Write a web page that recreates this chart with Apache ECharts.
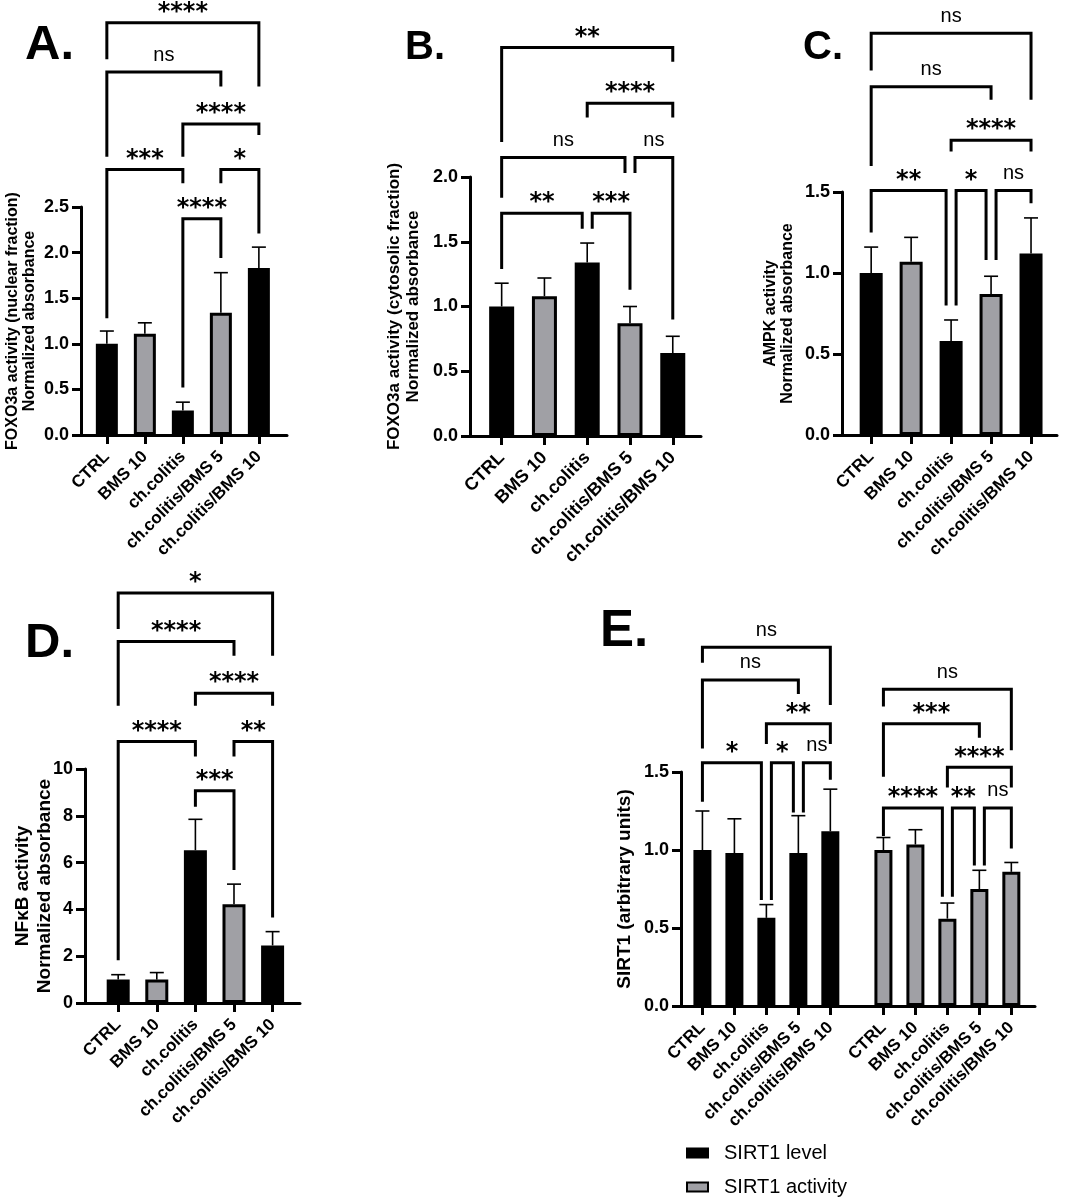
<!DOCTYPE html>
<html>
<head>
<meta charset="utf-8">
<script src="https://cdn.jsdelivr.net/npm/echarts@6/dist/echarts.min.js"></script>
<style>
  html, body { margin: 0; padding: 0; background: #fff; }
  #chart { width: 1065px; height: 1201px; }
</style>
</head>
<body>
<div id="chart"></div>
<script>
// group names (same order in every panel)
const groups = ['CTRL', 'BMS 10', 'ch.colitis', 'ch.colitis/BMS 5', 'ch.colitis/BMS 10'];

// A. FOXO3a activity, nuclear fraction
const foxoNucMean = [1.00, 1.11, 0.27, 1.34, 1.83];
const foxoNucSd   = [0.14, 0.12, 0.09, 0.44, 0.23];
// B. FOXO3a activity, cytosolic fraction
const foxoCytMean = [1.00, 1.08, 1.34, 0.87, 0.64];
const foxoCytSd   = [0.18, 0.14, 0.15, 0.13, 0.13];
// C. AMPK activity
const ampkMean = [1.00, 1.07, 0.58, 0.87, 1.12];
const ampkSd   = [0.16, 0.15, 0.13, 0.11, 0.22];
// D. NFkB activity
const nfkbMean = [1.00, 1.00, 6.53, 4.22, 2.46];
const nfkbSd   = [0.21, 0.30, 1.32, 0.86, 0.59];
// E. SIRT1
const sirtLevelMean = [1.00, 0.98, 0.565, 0.98, 1.12];
const sirtLevelSd   = [0.25, 0.22, 0.085, 0.24, 0.27];
const sirtActMean   = [1.00, 1.035, 0.56, 0.75, 0.86];
const sirtActSd     = [0.08, 0.095, 0.10, 0.12, 0.06];

// comparisons: [from, to, bracket level, left leg end, right leg end, label, left nudge, right nudge]
const bracketsA = [
  [0, 4, 4.52, 4.12, 3.82, '****'],
  [0, 3, 3.98, 3.05, 3.82, 'ns'],
  [2, 4, 3.41, 3.05, 3.29, '****'],
  [0, 2, 2.91, 1.28, 2.76, '***'],
  [3, 4, 2.91, 2.76, 2.21, '*'],
  [2, 3, 2.37, 0.52, 1.94, '****']
];
const bracketsB = [
  [0, 4, 3.00, 2.27, 2.89, '**'],
  [2, 4, 2.57, 2.46, 2.46, '****'],
  [0, 3, 2.15, 1.84, 2.03, 'ns', 0, -1],
  [3, 4, 2.15, 2.03, 0.90, 'ns', 1, 0],
  [0, 2, 1.72, 1.29, 1.60, '**', 0, -1],
  [2, 3, 1.72, 1.60, 1.13, '***', 1, 0]
];
const bracketsC = [
  [0, 4, 2.48, 2.25, 2.07, 'ns'],
  [0, 3, 2.15, 1.66, 2.07, 'ns'],
  [2, 4, 1.82, 1.75, 1.75, '****'],
  [0, 2, 1.51, 1.25, 0.80, '**', 0, -1],
  [2, 3, 1.51, 0.80, 1.08, '*', 1, -1],
  [3, 4, 1.51, 1.08, 1.43, 'ns', 1, 0]
];
const bracketsD = [
  [0, 4, 17.52, 15.98, 14.84, '*'],
  [0, 3, 15.45, 12.70, 14.84, '****'],
  [2, 4, 13.24, 12.70, 12.70, '****'],
  [0, 2, 11.17, 1.83, 10.53, '****'],
  [3, 4, 11.17, 10.53, 3.65, '**'],
  [2, 3, 9.07, 8.39, 5.68, '***']
];
const bracketsE = [
  [0, 4, 2.30, 2.20, 1.93, 'ns'],
  [0, 3, 2.09, 1.65, 2.00, 'ns'],
  [2, 4, 1.81, 1.68, 1.68, '**'],
  [0, 2, 1.56, 1.31, 0.68, '*', 0, -1],
  [2, 3, 1.56, 0.68, 1.24, '*', 1, -1],
  [3, 4, 1.56, 1.24, 1.45, 'ns', 1, 0],
  [5, 9, 2.03, 1.92, 1.64, 'ns'],
  [5, 8, 1.81, 1.47, 1.72, '***'],
  [7, 9, 1.53, 1.40, 1.40, '****'],
  [5, 7, 1.27, 1.09, 0.70, '****', 0, -1],
  [7, 8, 1.27, 0.70, 0.90, '**', 1, -1],
  [8, 9, 1.27, 0.90, 1.01, 'ns', 1, 0]
];

const BLACK = '#000';
const GRAY = '#a0a0a5';
const altFill = [BLACK, GRAY, BLACK, GRAY, BLACK];
const FONT = 'Liberation Sans';
const NUDGE = 5;
const E_GAP = 1.66; // extra room between the two SIRT1 groups

const xs5 = groups.map((g, k) => k);
const xsE2 = groups.map((g, k) => k + 5 + E_GAP - 1);
const xsE = xs5.concat(xsE2);

const panels = [
  { letter: 'A.', lx: 25, ly: 21, ls: 49,
    grid: { left: 81, top: 207, width: 206, height: 228 },
    xMin: -0.68, xMax: 4.74, yMax: 2.5, yStep: 0.5, dec: 1, barW: 22,
    yName: 'FOXO3a activity (nuclear fraction)\nNormalized absorbance', nameSize: 16, nameGap: 42, labelSize: 17 },
  { letter: 'B.', lx: 405, ly: 28, ls: 40,
    grid: { left: 470, top: 177, width: 231, height: 259 },
    xMin: -0.74, xMax: 4.66, yMax: 2.0, yStep: 0.5, dec: 1, barW: 25,
    yName: 'FOXO3a activity (cytosolic fraction)\nNormalized absorbance', nameSize: 17, nameGap: 47, labelSize: 18 },
  { letter: 'C.', lx: 803, ly: 28, ls: 40,
    grid: { left: 842, top: 192, width: 215, height: 243 },
    xMin: -0.73, xMax: 4.65, yMax: 1.5, yStep: 0.5, dec: 1, barW: 23,
    yName: 'AMPK activity\nNormalized absorbance', nameSize: 16, nameGap: 45, labelSize: 17 },
  { letter: 'D.', lx: 25, ly: 619, ls: 49,
    grid: { left: 85, top: 769, width: 215, height: 234 },
    xMin: -0.86, xMax: 4.71, yMax: 10, yStep: 2, dec: 0, barW: 23,
    yName: 'NFκB activity\nNormalized absorbance', nameSize: 19, nameGap: 30, labelSize: 17 },
  { letter: 'E.', lx: 600, ly: 606, ls: 51,
    grid: { left: 681, top: 772, width: 354, height: 234 },
    xMin: -0.67, xMax: 10.4, yMax: 1.5, yStep: 0.5, dec: 1, barW: 18,
    yName: 'SIRT1 (arbitrary units)', nameSize: 19, nameGap: 46, labelSize: 17 }
];

function labelFor(xs) {
  return function (v) {
    const k = xs.findIndex(x => Math.abs(x - v) < 1e-6);
    return k < 0 ? '' : groups[k % groups.length];
  };
}

function barSeries(pi, name, xs, mean, fills, barW, baseColor) {
  return {
    type: 'bar', name: name, xAxisIndex: pi, yAxisIndex: pi,
    barWidth: barW, barGap: '-100%', z: 2,
    itemStyle: { color: baseColor, borderColor: BLACK, borderWidth: 3 },
    data: xs.map((x, k) => ({ value: [x, mean[k]], itemStyle: { color: fills[k] } }))
  };
}

function errorSeries(pi, xs, mean, sd) {
  return {
    type: 'custom', xAxisIndex: pi, yAxisIndex: pi, z: 4, silent: true, clip: false,
    data: xs.map((x, k) => [x, mean[k], mean[k] + sd[k]]),
    encode: { x: 0, y: [1, 2] },
    renderItem: function (params, api) {
      const lo = api.coord([api.value(0), api.value(1)]);
      const hi = api.coord([api.value(0), api.value(2)]);
      const st = { stroke: BLACK, lineWidth: 1.6 };
      return {
        type: 'group', children: [
          { type: 'line', shape: { x1: lo[0], y1: lo[1], x2: hi[0], y2: hi[1] }, style: st },
          { type: 'line', shape: { x1: hi[0] - 7, y1: hi[1], x2: hi[0] + 7, y2: hi[1] }, style: st }
        ]
      };
    }
  };
}

function bracketSeries(pi, list, xs) {
  return {
    type: 'custom', xAxisIndex: pi, yAxisIndex: pi, z: 5, silent: true, clip: false,
    data: list.map(b => [xs[b[0]], xs[b[1]], b[2], b[3], b[4], b[6] || 0, b[7] || 0]),
    encode: { x: [0, 1], y: [2, 3, 4] },
    renderItem: function (params, api) {
      const b = list[params.dataIndex];
      const tl = api.coord([api.value(0), api.value(2)]);
      const tr = api.coord([api.value(1), api.value(2)]);
      const yl = api.coord([api.value(0), api.value(3)])[1];
      const yr = api.coord([api.value(1), api.value(4)])[1];
      const xl = tl[0] + api.value(5) * NUDGE;
      const xr = tr[0] + api.value(6) * NUDGE;
      const star = b[5] !== 'ns';
      return {
        type: 'group', children: [
          { type: 'polyline',
            shape: { points: [[xl, yl], [xl, tl[1]], [xr, tl[1]], [xr, yr]] },
            style: { stroke: BLACK, lineWidth: 3, fill: null, lineJoin: 'miter', lineCap: 'butt' } },
          { type: 'text',
            style: {
              text: b[5], x: (xl + xr) / 2, y: tl[1] - (star ? 10 : 17),
              align: 'center', verticalAlign: 'middle', fill: BLACK,
              fontFamily: star ? 'DejaVu Sans' : FONT,
              fontWeight: star ? 'bold' : 'normal',
              fontSize: star ? 24 : 20
            } }
        ]
      };
    }
  };
}

const grids = [], xAxes = [], yAxes = [], titles = [];
panels.forEach((p, pi) => {
  const xs = pi === 4 ? xsE : xs5;
  grids.push(p.grid);
  titles.push({ text: p.letter, left: p.lx, top: p.ly, padding: 0,
    textStyle: { fontFamily: FONT, fontWeight: 'bold', fontSize: p.ls, color: BLACK } });
  xAxes.push({
    type: 'value', gridIndex: pi, min: p.xMin, max: p.xMax,
    splitLine: { show: false },
    axisLine: { show: true, onZero: false, lineStyle: { color: BLACK, width: 3 } },
    axisTick: { show: true, customValues: xs, length: 9, lineStyle: { color: BLACK, width: 3 } },
    axisLabel: {
      customValues: xs, formatter: labelFor(xs), rotate: 45, margin: 19,
      fontFamily: FONT, fontWeight: 'bold', fontSize: p.labelSize, color: BLACK
    }
  });
  yAxes.push({
    type: 'value', gridIndex: pi, min: 0, max: p.yMax, interval: p.yStep,
    splitLine: { show: false },
    axisLine: { show: true, onZero: false, lineStyle: { color: BLACK, width: 3 } },
    axisTick: { show: true, length: 9, lineStyle: { color: BLACK, width: 3 } },
    axisLabel: {
      margin: 12, formatter: v => v.toFixed(p.dec),
      fontFamily: FONT, fontWeight: 'bold', fontSize: 18, color: BLACK
    },
    name: p.yName, nameLocation: 'middle', nameRotate: 90, nameGap: p.nameGap,
    nameMoveOverlap: false,
    nameTextStyle: { fontFamily: FONT, fontWeight: 'bold', fontSize: p.nameSize, color: BLACK, lineHeight: p.nameSize * 1.12 }
  });
});

const series = [
  barSeries(0, 'A', xs5, foxoNucMean, altFill, panels[0].barW, BLACK),
  errorSeries(0, xs5, foxoNucMean, foxoNucSd),
  bracketSeries(0, bracketsA, xs5),
  barSeries(1, 'B', xs5, foxoCytMean, altFill, panels[1].barW, BLACK),
  errorSeries(1, xs5, foxoCytMean, foxoCytSd),
  bracketSeries(1, bracketsB, xs5),
  barSeries(2, 'C', xs5, ampkMean, altFill, panels[2].barW, BLACK),
  errorSeries(2, xs5, ampkMean, ampkSd),
  bracketSeries(2, bracketsC, xs5),
  barSeries(3, 'D', xs5, nfkbMean, altFill, panels[3].barW, BLACK),
  errorSeries(3, xs5, nfkbMean, nfkbSd),
  bracketSeries(3, bracketsD, xs5),
  barSeries(4, 'SIRT1 level', xs5, sirtLevelMean, xs5.map(() => BLACK), panels[4].barW, BLACK),
  barSeries(4, 'SIRT1 activity', xsE2, sirtActMean, xs5.map(() => GRAY), panels[4].barW, GRAY),
  errorSeries(4, xs5, sirtLevelMean, sirtLevelSd),
  errorSeries(4, xsE2, sirtActMean, sirtActSd),
  bracketSeries(4, bracketsE, xsE)
];

const legendBase = {
  left: 686, icon: 'rect', itemWidth: 21, itemHeight: 9, itemGap: 10, padding: 0,
  textStyle: { fontFamily: FONT, fontSize: 20, color: BLACK, padding: [0, 0, 0, 11] },
  selectedMode: false
};

const chart = echarts.init(document.getElementById('chart'), null, { renderer: 'canvas' });
chart.setOption({
  backgroundColor: '#fff',
  animation: false,
  title: titles,
  grid: grids,
  xAxis: xAxes,
  yAxis: yAxes,
  legend: [
    Object.assign({}, legendBase, { data: ['SIRT1 level'], top: 1143 }),
    Object.assign({}, legendBase, { data: ['SIRT1 activity'], top: 1177 })
  ],
  series: series
});
</script>
</body>
</html>
